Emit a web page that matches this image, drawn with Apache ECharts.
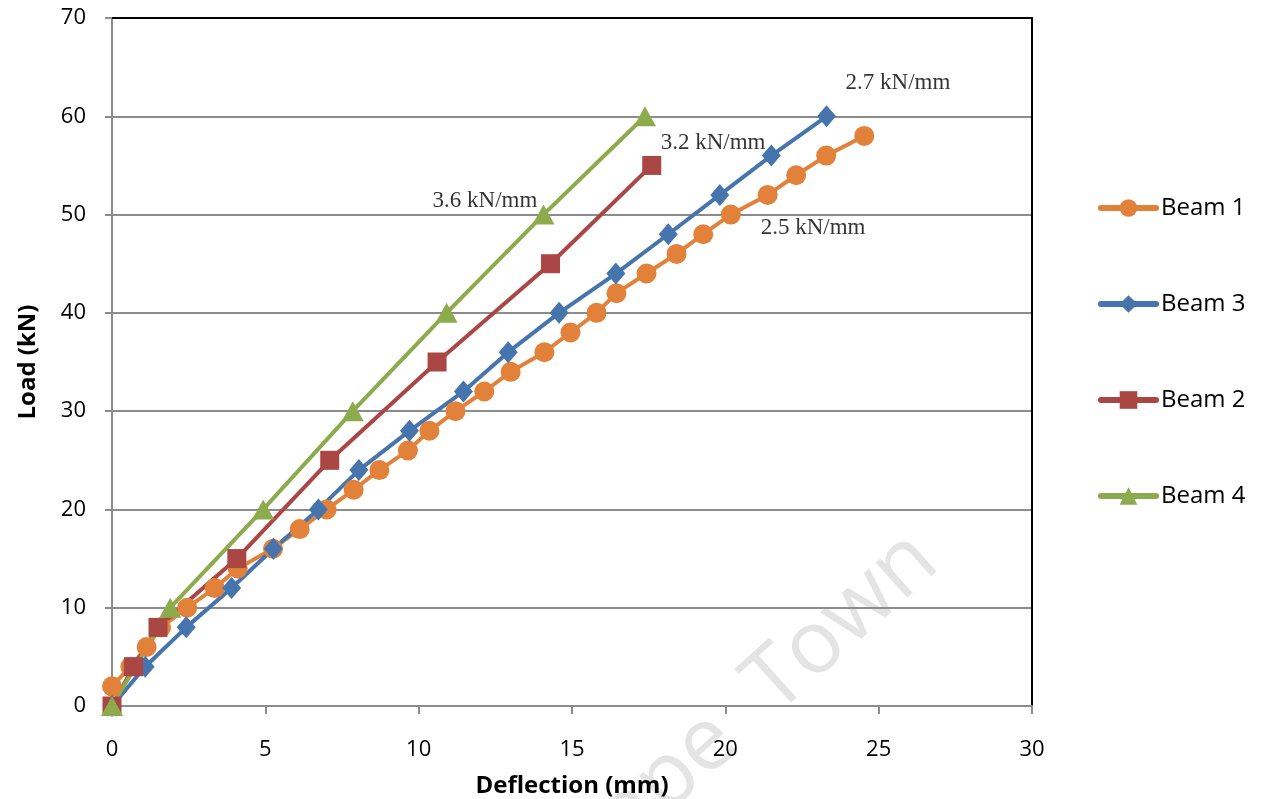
<!DOCTYPE html>
<html>
<head>
<meta charset="utf-8">
<title>Load vs Deflection</title>
<script src="https://cdn.jsdelivr.net/npm/echarts@6/dist/echarts.min.js"></script>
<style>
  html, body { margin: 0; padding: 0; background: #ffffff; }
  #chart { width: 1261px; height: 799px; }
</style>
</head>
<body>
<div id="chart"></div>
<script>
// Load (kN) against mid-span deflection (mm) for four beams
const beam1Deflection = [0, 0.6, 1.13, 1.6, 2.45, 3.35, 4.1, 5.25, 6.12, 7.0, 7.88, 8.72, 9.65, 10.35, 11.2, 12.14, 13.0, 14.1, 14.95, 15.8, 16.45, 17.43, 18.41, 19.28, 20.18, 21.38, 22.31, 23.29, 24.53];
const beam1Load       = [2, 4, 6, 8, 10, 12, 14, 16, 18, 20, 22, 24, 26, 28, 30, 32, 34, 36, 38, 40, 42, 44, 46, 48, 50, 52, 54, 56, 58];

const beam3Deflection = [0, 1.08, 2.42, 3.9, 5.26, 6.73, 8.05, 9.7, 11.46, 12.92, 14.58, 16.43, 18.14, 19.82, 21.5, 23.3];
const beam3Load       = [0, 4, 8, 12, 16, 20, 24, 28, 32, 36, 40, 44, 48, 52, 56, 60];

const beam2Deflection = [0, 0.7, 1.5, 4.07, 7.1, 10.6, 14.3, 17.6];
const beam2Load       = [0, 4, 8, 15, 25, 35, 45, 55];

const beam4Deflection = [0, 1.9, 4.93, 7.85, 10.91, 14.07, 17.38];
const beam4Load       = [0, 10, 20, 30, 40, 50, 60];

// Stiffness notes and where they sit (deflection, load)
const stiffnessText = ['2.7 kN/mm', '3.2 kN/mm', '3.6 kN/mm', '2.5 kN/mm'];
const stiffnessAt   = [[25.63, 63.4], [19.6, 57.3], [12.16, 51.4], [22.86, 48.6]];

const xTicks = { min: 0, max: 30, interval: 5 };
const yTicks = { min: 0, max: 70, interval: 10 };

const pairs = (xs, ys) => xs.map((x, i) => [x, ys[i]]);

const uiFont = '"Open Sans", "Liberation Sans", sans-serif';
const serifFont = '"Liberation Serif", "Times New Roman", serif';
const gridGrey = '#8c8c8c';

function beamSeries(name, xs, ys, color, symbol, size) {
  return {
    name: name,
    type: 'line',
    data: pairs(xs, ys),
    symbol: symbol,
    symbolSize: size,
    showAllSymbol: true,
    lineStyle: { color: color, width: 4 },
    itemStyle: { color: color, borderWidth: 0 },
    emphasis: { disabled: true },
    z: 3
  };
}

const chart = echarts.init(document.getElementById('chart'), null, { renderer: 'canvas' });

chart.setOption({
  animation: false,
  backgroundColor: '#ffffff',
  grid: { left: 112, right: 229, top: 18, bottom: 93, outerBoundsMode: 'none' },
  xAxis: [
    {
      type: 'value',
      min: xTicks.min, max: xTicks.max, interval: xTicks.interval,
      name: 'Deflection (mm)',
      nameLocation: 'middle',
      nameGap: 68,
      nameTextStyle: { fontFamily: uiFont, fontWeight: 'bold', fontSize: 24, color: '#000' },
      axisLine: { show: true, onZero: false, lineStyle: { color: gridGrey, width: 2 } },
      axisTick: { show: true, inside: false, length: 8, lineStyle: { color: gridGrey, width: 2 } },
      axisLabel: { margin: 33, fontFamily: uiFont, fontSize: 22, color: '#000' },
      splitLine: { show: false }
    },
    {
      type: 'value', position: 'top',
      min: xTicks.min, max: xTicks.max, interval: xTicks.interval,
      axisLine: { show: true, onZero: false, lineStyle: { color: '#000', width: 2 } },
      axisTick: { show: false }, axisLabel: { show: false }, splitLine: { show: false }
    }
  ],
  yAxis: [
    {
      type: 'value',
      min: yTicks.min, max: yTicks.max, interval: yTicks.interval,
      name: 'Load (kN)',
      nameLocation: 'middle',
      nameGap: 72,
      nameRotate: 90,
      nameTextStyle: { fontFamily: uiFont, fontWeight: 'bold', fontSize: 24, color: '#000' },
      axisLine: { show: true, onZero: false, lineStyle: { color: gridGrey, width: 2 } },
      axisTick: { show: true, inside: false, length: 7, lineStyle: { color: gridGrey, width: 2 } },
      axisLabel: { margin: 26, fontFamily: uiFont, fontSize: 22, color: '#000' },
      splitLine: { show: true, lineStyle: { color: gridGrey, width: 2 } }
    },
    {
      type: 'value', position: 'right',
      min: yTicks.min, max: yTicks.max, interval: yTicks.interval,
      axisLine: { show: true, onZero: false, lineStyle: { color: '#000', width: 2 } },
      axisTick: { show: false }, axisLabel: { show: false }, splitLine: { show: false }
    }
  ],
  legend: {
    orient: 'vertical',
    left: 1093,
    top: 191,
    itemWidth: 55,
    itemHeight: 22,
    itemGap: 72,
    data: ['Beam 1', 'Beam 3', 'Beam 2', 'Beam 4'],
    lineStyle: { width: 6, cap: 'round' },
    textStyle: { fontFamily: uiFont, fontSize: 24, color: '#000', lineHeight: 24, padding: [0, 0, 0, 0] }
  },
  graphic: [
    {
      type: 'text',
      x: 925, y: 548,
      rotation: 42 * Math.PI / 180,
      z: -10,
      silent: true,
      style: {
        text: 'Cape  Town',
        fontFamily: uiFont,
        fontSize: 88,
        fill: '#e4e4e4',
        align: 'right',
        verticalAlign: 'middle'
      }
    }
  ],
  series: [
    beamSeries('Beam 1', beam1Deflection, beam1Load, '#e2823a', 'circle', 20),
    beamSeries('Beam 3', beam3Deflection, beam3Load, '#4674ad', 'diamond', [19, 22]),
    beamSeries('Beam 2', beam2Deflection, beam2Load, '#aa4644', 'rect', 19),
    beamSeries('Beam 4', beam4Deflection, beam4Load, '#8cab4d', 'triangle', [22, 20]),
    {
      name: 'stiffness',
      type: 'scatter',
      silent: true,
      symbolSize: 0,
      data: stiffnessAt.map((p, i) => ({ value: p, label: { formatter: stiffnessText[i] } })),
      label: {
        show: true,
        position: 'inside',
        fontFamily: serifFont,
        fontSize: 23,
        color: '#000'
      },
      z: 5
    }
  ]
});
</script>
</body>
</html>
